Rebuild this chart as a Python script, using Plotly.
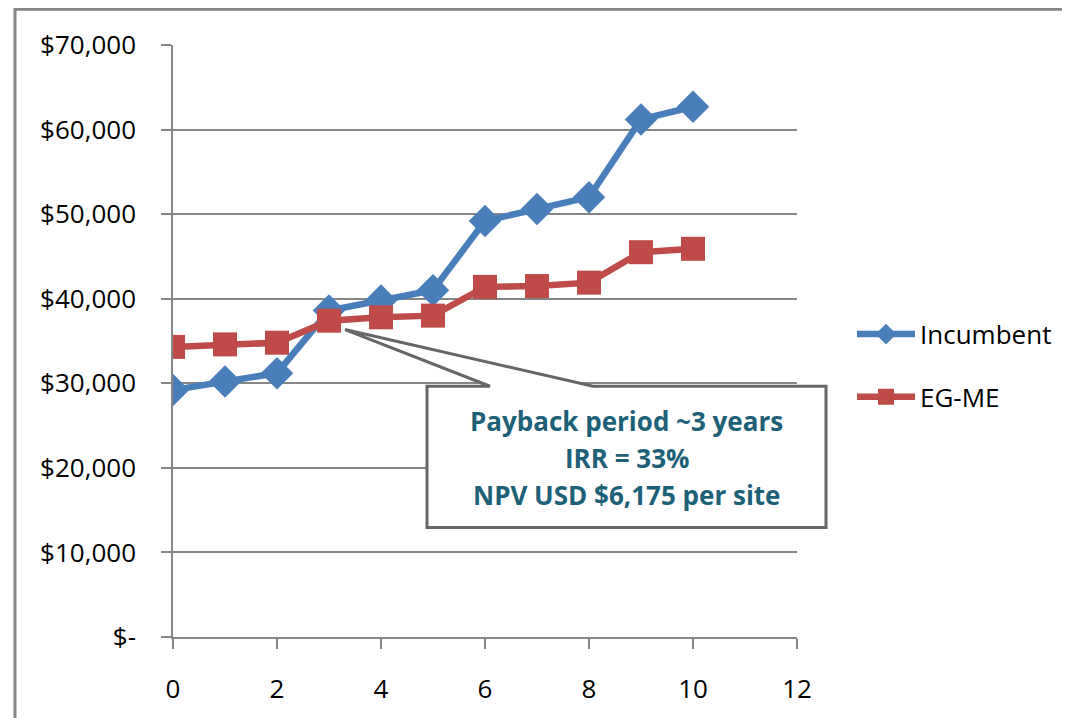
import plotly.graph_objects as go

years = [0, 1, 2, 3, 4, 5, 6, 7, 8, 9, 10]
incumbent = [29200, 30200, 31200, 38600, 39800, 41000, 49200, 50600, 52000, 61200, 62700]
eg_me = [34300, 34600, 34800, 37400, 37800, 38000, 41400, 41500, 41900, 45500, 45900]
y_ticks = [0, 10000, 20000, 30000, 40000, 50000, 60000, 70000]
y_tick_labels = ["$-", "$10,000", "$20,000", "$30,000", "$40,000", "$50,000", "$60,000", "$70,000"]
x_ticks = [0, 2, 4, 6, 8, 10, 12]
callout_lines = ["Payback period ~3 years", "IRR = 33%", "NPV USD $6,175 per site"]

OFF = 8  # page body margin offset
W, H = 1070 - OFF, 718 - OFF
# plot area in screen pixels
L, R, T, B = 173, 797, 45, 640

def px(x):
    return (x - L) / (R - L)

def py(y):
    return (B - y) / (B - T)

GRID = "#868686"
FONT = "Open Sans"

fig = go.Figure()
fig.add_trace(go.Scatter(
    x=years, y=incumbent, name="Incumbent", mode="lines+markers",
    line=dict(color="#4A7EBB", width=6.5),
    marker=dict(symbol="diamond", size=25, color="#4A7EBB"),
    legendgroup="a",
))
fig.add_trace(go.Scatter(
    x=years, y=eg_me, name="EG-ME", mode="lines+markers",
    line=dict(color="#BE4B48", width=6.5),
    marker=dict(symbol="square", size=24, color="#BE4B48"),
    legendgroup="b",
))

shapes = []
shapes.append(dict(type="path", xref="paper", yref="paper",
                   path=f"M {px(15)},{py(760)} L {px(15)},{py(9)} L {px(1100)},{py(9)}",
                   line=dict(color=GRID, width=3)))
bx0, bx1, by0, by1 = 427, 826, 388, 530
path = (f"M {px(bx0)},{py(by0)} L {px(490)},{py(by0)} L {px(345)},{py(331)} "
        f"L {px(593)},{py(by0)} L {px(bx1)},{py(by0)} L {px(bx1)},{py(by1)} "
        f"L {px(bx0)},{py(by1)} Z")
shapes.append(dict(type="path", xref="paper", yref="paper", path=path,
                   line=dict(color="#666666", width=3), fillcolor="white", layer="above"))

annotations = []
for i, t in enumerate(callout_lines):
    annotations.append(dict(
        xref="paper", yref="paper", x=px((bx0 + bx1) / 2), y=py(423 + 37 * i),
        text=f"<b>{t}</b>", showarrow=False, xanchor="center", yanchor="middle",
        font=dict(family=FONT, size=26, color="#1D6077"),
    ))

fig.update_layout(
    width=W, height=H,
    margin=dict(l=L - OFF, r=W - (R - OFF), t=T - OFF, b=H - (B - OFF), pad=0),
    paper_bgcolor="white", plot_bgcolor="white",
    font=dict(family=FONT, size=26, color="black"),
    showlegend=True,
    legend=dict(
        x=px(852), y=py(312), xanchor="left", yanchor="top",
        font=dict(family=FONT, size=26, color="black"),
        itemwidth=58, tracegroupgap=26, traceorder="grouped",
        bgcolor="rgba(0,0,0,0)",
    ),
    shapes=shapes,
    annotations=annotations,
)
fig.update_xaxes(
    range=[0, 12], tickvals=x_ticks, ticktext=[str(v) for v in x_ticks],
    showgrid=False, zeroline=False, showline=True, linecolor=GRID, linewidth=1.5,
    ticks="outside", ticklen=10, tickcolor=GRID, tickwidth=1.5,
    ticklabelstandoff=18, tickfont=dict(family=FONT, size=26, color="black"),
)
fig.update_yaxes(
    range=[0, 70000], tickvals=y_ticks, ticktext=y_tick_labels,
    showgrid=True, gridcolor=GRID, gridwidth=1.5, zeroline=False,
    showline=True, linecolor=GRID, linewidth=1.5,
    ticks="outside", ticklen=10, tickcolor=GRID, tickwidth=1.5,
    ticklabelstandoff=20, tickfont=dict(family=FONT, size=26, color="black"),
)

fig.write_html("out.html")
